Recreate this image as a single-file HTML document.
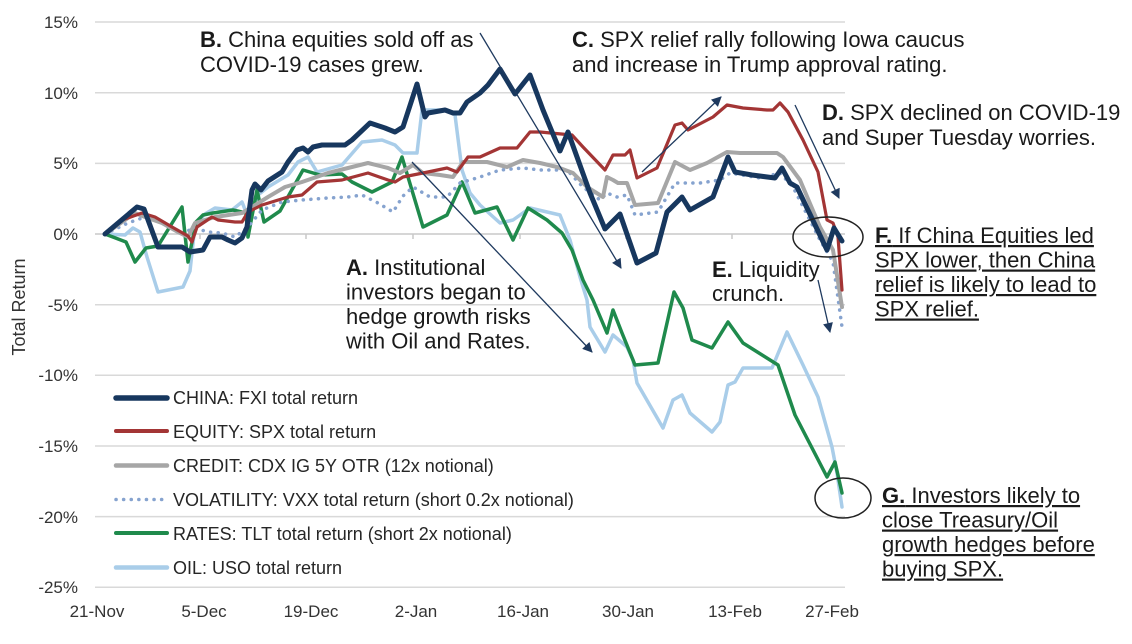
<!DOCTYPE html>
<html><head><meta charset="utf-8"><style>
html,body{margin:0;padding:0;background:#fff;}
svg{display:block;}
text{font-family:"Liberation Sans",Arial,sans-serif;}
</style></head><body>
<svg width="1132" height="644" viewBox="0 0 1132 644" xmlns="http://www.w3.org/2000/svg">
<defs>
<marker id="ah" viewBox="0 0 10 10" refX="9" refY="5" markerWidth="12" markerHeight="10" markerUnits="userSpaceOnUse" orient="auto"><path d="M0,0 L10,5 L0,10 z" fill="#1f3a5f"/></marker>
</defs>
<rect width="1132" height="644" fill="#fff"/>
<!-- gridlines -->
<g stroke="#d9d9d9" stroke-width="1.5">
<line x1="95" y1="22" x2="845" y2="22"/>
<line x1="95" y1="92.7" x2="845" y2="92.7"/>
<line x1="95" y1="163.4" x2="845" y2="163.4"/>
<line x1="95" y1="304.7" x2="845" y2="304.7"/>
<line x1="95" y1="375.3" x2="845" y2="375.3"/>
<line x1="95" y1="446" x2="845" y2="446"/>
<line x1="95" y1="516.6" x2="845" y2="516.6"/>
<line x1="95" y1="587.3" x2="845" y2="587.3"/>
</g>
<g stroke="#c8c8c8" stroke-width="1.5">
<line x1="95" y1="234" x2="845" y2="234"/>
<line x1="200" y1="234" x2="200" y2="239"/>
<line x1="306" y1="234" x2="306" y2="239"/>
<line x1="413" y1="234" x2="413" y2="239"/>
<line x1="520" y1="234" x2="520" y2="239"/>
<line x1="626" y1="234" x2="626" y2="239"/>
<line x1="732" y1="234" x2="732" y2="239"/>
</g>
<!-- y labels -->
<g font-size="17" fill="#333" text-anchor="end">
<text x="78" y="28">15%</text>
<text x="78" y="99">10%</text>
<text x="78" y="169">5%</text>
<text x="78" y="240">0%</text>
<text x="78" y="311">-5%</text>
<text x="78" y="381">-10%</text>
<text x="78" y="452">-15%</text>
<text x="78" y="523">-20%</text>
<text x="78" y="593">-25%</text>
</g>
<text x="0" y="0" font-size="18" fill="#333" text-anchor="middle" transform="translate(25,307) rotate(-90)">Total Return</text>
<!-- x labels -->
<g font-size="17" fill="#333" text-anchor="middle">
<text x="97" y="617">21-Nov</text>
<text x="204" y="617">5-Dec</text>
<text x="311" y="617">19-Dec</text>
<text x="416" y="617">2-Jan</text>
<text x="523" y="617">16-Jan</text>
<text x="628" y="617">30-Jan</text>
<text x="735" y="617">13-Feb</text>
<text x="832" y="617">27-Feb</text>
</g>
<!-- series -->
<g fill="none" stroke-linejoin="round" stroke-linecap="round">
<polyline stroke="#a9cde9" stroke-width="3.5" points="105,234 125,235 133,228 140,232 147,257 158,292 183,287 190,271 195,225 205,214 215,208 232,210 242,202 248,217 258,195 268,187 288,175 298,162 308,157 317,172 342,165 362,142 382,140 395,145 403,153 417,153 422,110 447,110 455,115 462,170 470,193 480,205 500,223 513,220 530,208 560,215 570,240 580,277 587,300 590,327 605,352 613,335 627,347 633,360 637,383 663,428 673,400 682,395 690,413 712,432 720,422 728,385 735,382 743,368 772,368 787,332 803,365 818,397 832,447 837,473 842,507"/>
<polyline stroke="#1f8a4c" stroke-width="3.5" points="105,234 126,242 135,262 146,248 158,246 182,207 188,262 196,222 203,215 213,213 233,210 246,213 248,237 257,190 264,222 280,211 303,170 320,175 342,174 352,182 372,192 392,182 402,157 423,227 447,215 462,182 475,213 497,207 513,240 528,208 547,220 562,233 572,250 583,280 593,300 607,333 613,310 622,333 635,365 658,363 674,292 683,308 692,340 712,348 728,322 743,343 778,365 795,415 827,477 835,462 842,493"/>
<polyline stroke="#86a3cf" stroke-width="3.5" stroke-dasharray="0.1 7.5" points="105,234 128,223 145,217 162,223 182,233 195,228 208,232 222,233 235,237 248,227 262,210 282,202 302,200 328,198 348,197 362,195 378,203 393,212 403,196 413,187 430,197 447,197 460,183 480,177 500,170 523,168 540,170 567,170 583,187 600,200 607,193 617,197 627,195 635,215 658,212 675,183 700,183 720,180 730,173 760,178 780,173 793,187 820,240 833,262 842,327"/>
<polyline stroke="#a6a6a6" stroke-width="4" points="105,234 135,213 145,217 162,223 178,232 188,237 195,223 205,220 215,217 242,213 252,207 268,197 285,187 302,182 328,173 348,168 368,163 388,168 400,173 413,165 423,173 440,175 453,177 463,162 487,162 507,167 523,160 540,163 557,167 573,173 587,187 603,197 607,177 613,180 618,183 627,183 635,205 658,203 675,162 690,170 707,163 727,152 740,153 777,153 783,157 800,180 820,227 833,250 842,307"/>
<polyline stroke="#a33535" stroke-width="3.2" points="105,234 122,220 142,213 155,217 172,227 188,236 192,242 197,227 212,217 218,220 235,222 242,222 248,212 262,205 288,197 302,195 317,182 342,180 368,173 388,180 395,182 403,177 423,173 447,168 457,172 468,157 480,157 500,148 517,148 530,132 540,132 572,135 583,147 605,170 613,155 625,155 630,150 637,178 657,168 675,125 682,123 688,130 713,117 727,105 743,108 767,110 773,110 780,103 788,112 803,140 818,172 827,220 833,223 838,237 842,290"/>
<polyline stroke="#17375e" stroke-width="5" points="105,234 137,207 144,209 158,247 182,247 190,252 203,250 210,237 222,237 228,240 235,243 242,238 247,227 252,190 255,184 261,190 268,181 282,172 288,162 297,150 303,148 308,152 313,147 322,145 345,145 352,140 370,123 385,128 395,132 403,127 417,84 425,117 428,113 445,110 453,113 460,113 467,102 480,93 488,85 500,69 515,94 530,75 543,110 560,151 568,132 590,193 605,229 620,214 637,263 656,253 667,212 682,197 690,210 713,197 728,157 735,172 752,175 775,178 782,168 790,183 797,187 827,250 834,228 842,241"/>
</g>
<!-- arrows -->
<g stroke="#1f3a5f" stroke-width="1.3" fill="none">
<line x1="480" y1="33" x2="621" y2="268" marker-end="url(#ah)"/>
<line x1="412" y1="162" x2="592" y2="352" marker-end="url(#ah)"/>
<line x1="642" y1="172" x2="721" y2="97" marker-end="url(#ah)"/>
<line x1="795" y1="105" x2="839" y2="198" marker-end="url(#ah)"/>
<line x1="818" y1="280" x2="830" y2="332" marker-end="url(#ah)"/>
</g>
<!-- ellipses -->
<g fill="none" stroke="#222" stroke-width="1.5">
<ellipse cx="828" cy="237" rx="35" ry="20"/>
<ellipse cx="843" cy="498" rx="28" ry="20"/>
</g>
<!-- legend -->
<g stroke-linecap="round">
<line x1="116" y1="398" x2="167" y2="398" stroke="#17375e" stroke-width="5.5"/>
<line x1="116" y1="431" x2="167" y2="431" stroke="#a33535" stroke-width="4"/>
<line x1="116" y1="465.5" x2="167" y2="465.5" stroke="#a6a6a6" stroke-width="4.5"/>
<line x1="116" y1="499.5" x2="164" y2="499.5" stroke="#86a3cf" stroke-width="3.5" stroke-dasharray="0.1 7.5"/>
<line x1="116" y1="533" x2="167" y2="533" stroke="#1f8a4c" stroke-width="4"/>
<line x1="116" y1="567.5" x2="167" y2="567.5" stroke="#a9cde9" stroke-width="4.5"/>
</g>
<g font-size="18" fill="#262626">
<text x="173" y="404">CHINA: FXI total return</text>
<text x="173" y="438">EQUITY: SPX total return</text>
<text x="173" y="472">CREDIT: CDX IG 5Y OTR (12x notional)</text>
<text x="173" y="506">VOLATILITY: VXX total return (short 0.2x notional)</text>
<text x="173" y="540">RATES: TLT total return (short 2x notional)</text>
<text x="173" y="574">OIL: USO total return</text>
</g>
<!-- annotations -->
<g font-size="22" fill="#1a1a1a">
<text x="200" y="47"><tspan font-weight="bold">B.</tspan> China equities sold off as</text>
<text x="200" y="72">COVID-19 cases grew.</text>
<text x="572" y="47"><tspan font-weight="bold">C.</tspan> SPX relief rally following Iowa caucus</text>
<text x="572" y="72">and increase in Trump approval rating.</text>
<text x="822" y="120"><tspan font-weight="bold">D.</tspan> SPX declined on COVID-19</text>
<text x="822" y="145">and Super Tuesday worries.</text>
<text x="346" y="275"><tspan font-weight="bold">A.</tspan> Institutional</text>
<text x="346" y="299.5">investors began to</text>
<text x="346" y="324">hedge growth risks</text>
<text x="346" y="348.5">with Oil and Rates.</text>
<text x="712" y="277"><tspan font-weight="bold">E.</tspan> Liquidity</text>
<text x="712" y="301">crunch.</text>
</g>
<g font-size="22" fill="#1a1a1a" style="text-decoration:underline">
<text x="875" y="243"><tspan font-weight="bold">F.</tspan> If China Equities led</text>
<text x="875" y="267.5">SPX lower, then China</text>
<text x="875" y="292">relief is likely to lead to</text>
<text x="875" y="316.5">SPX relief.</text>
<text x="882" y="503"><tspan font-weight="bold">G.</tspan> Investors likely to</text>
<text x="882" y="527.5">close Treasury/Oil</text>
<text x="882" y="552">growth hedges before</text>
<text x="882" y="576.5">buying SPX.</text>
</g>
</svg>
</body></html>
